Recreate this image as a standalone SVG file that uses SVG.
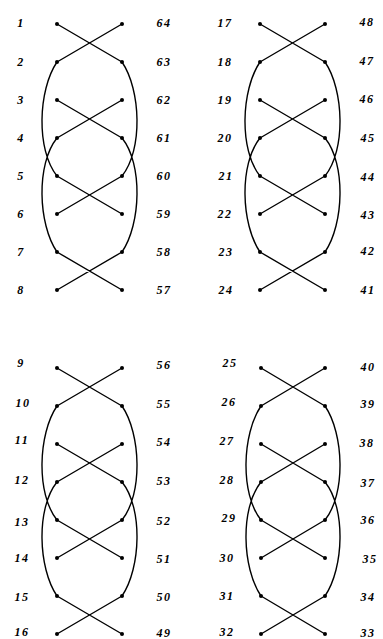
<svg xmlns="http://www.w3.org/2000/svg" width="383" height="639" viewBox="0 0 383 639">
<style>
.c{fill:none;stroke:#000;stroke-width:1.4;stroke-linecap:round}
.d{fill:#000}
.t{font-family:"Liberation Serif",serif;font-style:italic;font-weight:bold;font-size:12px;letter-spacing:1.5px;fill:#000;text-anchor:middle}
</style>
<defs><circle id="dot" r="2"/></defs>
<rect width="383" height="639" fill="#fff"/>
<g id="connectors" class="c">
<path d="M57,24L122,62M122,24L57,62M57,100L122,138M122,100L57,138M57,176L122,214M122,176L57,214M57,252L122,290M122,252L57,290"/>
<path d="M57,62C38,90 36,150 57,176M57,138C36,164 38,224 57,252M122,62C141,90 143,150 122,176M122,138C143,164 141,224 122,252"/>
<path d="M260,24L325,62M325,24L260,62M260,100L325,138M325,100L260,138M260,176L325,214M325,176L260,214M260,252L325,290M325,252L260,290"/>
<path d="M260,62C241,90 239,150 260,176M260,138C239,164 241,224 260,252M325,62C344,90 346,150 325,176M325,138C346,164 344,224 325,252"/>
<path d="M57,368L122,406M122,368L57,406M57,444L122,482M122,444L57,482M57,520L122,558M122,520L57,558M57,596L122,634M122,596L57,634"/>
<path d="M57,406C38,434 36,494 57,520M57,482C36,508 38,568 57,596M122,406C141,434 143,494 122,520M122,482C143,508 141,568 122,596"/>
<path d="M261,368L325,406M325,368L261,406M261,444L325,482M325,444L261,482M261,520L325,558M325,520L261,558M261,596L325,634M325,596L261,634"/>
<path d="M261,406C242,434 240,494 261,520M261,482C240,508 242,568 261,596M325,406C344,434 346,494 325,520M325,482C346,508 344,568 325,596"/>
</g>
<g id="n1"><use href="#dot" x="57" y="24"/><text class="t" x="21" y="27">1</text></g>
<g id="n2"><use href="#dot" x="57" y="62"/><text class="t" x="21" y="66">2</text></g>
<g id="n3"><use href="#dot" x="57" y="100"/><text class="t" x="21" y="104">3</text></g>
<g id="n4"><use href="#dot" x="57" y="138"/><text class="t" x="21" y="142">4</text></g>
<g id="n5"><use href="#dot" x="57" y="176"/><text class="t" x="21" y="180">5</text></g>
<g id="n6"><use href="#dot" x="57" y="214"/><text class="t" x="21" y="218">6</text></g>
<g id="n7"><use href="#dot" x="57" y="252"/><text class="t" x="21" y="256">7</text></g>
<g id="n8"><use href="#dot" x="57" y="290"/><text class="t" x="21" y="294">8</text></g>
<g id="n64"><use href="#dot" x="122" y="24"/><text class="t" x="164" y="27">64</text></g>
<g id="n63"><use href="#dot" x="122" y="62"/><text class="t" x="164" y="66">63</text></g>
<g id="n62"><use href="#dot" x="122" y="100"/><text class="t" x="164" y="104">62</text></g>
<g id="n61"><use href="#dot" x="122" y="138"/><text class="t" x="164" y="142">61</text></g>
<g id="n60"><use href="#dot" x="122" y="176"/><text class="t" x="164" y="180">60</text></g>
<g id="n59"><use href="#dot" x="122" y="214"/><text class="t" x="164" y="218">59</text></g>
<g id="n58"><use href="#dot" x="122" y="252"/><text class="t" x="164" y="256">58</text></g>
<g id="n57"><use href="#dot" x="122" y="290"/><text class="t" x="164" y="294">57</text></g>
<g id="n17"><use href="#dot" x="260" y="24"/><text class="t" x="225" y="27">17</text></g>
<g id="n18"><use href="#dot" x="260" y="62"/><text class="t" x="225" y="66">18</text></g>
<g id="n19"><use href="#dot" x="260" y="100"/><text class="t" x="225" y="104">19</text></g>
<g id="n20"><use href="#dot" x="260" y="138"/><text class="t" x="225" y="142">20</text></g>
<g id="n21"><use href="#dot" x="260" y="176"/><text class="t" x="226" y="180">21</text></g>
<g id="n22"><use href="#dot" x="260" y="214"/><text class="t" x="225" y="218">22</text></g>
<g id="n23"><use href="#dot" x="260" y="252"/><text class="t" x="226" y="256">23</text></g>
<g id="n24"><use href="#dot" x="260" y="290"/><text class="t" x="226" y="294">24</text></g>
<g id="n48"><use href="#dot" x="325" y="24"/><text class="t" x="367" y="26">48</text></g>
<g id="n47"><use href="#dot" x="325" y="62"/><text class="t" x="367" y="65">47</text></g>
<g id="n46"><use href="#dot" x="325" y="100"/><text class="t" x="367" y="103">46</text></g>
<g id="n45"><use href="#dot" x="325" y="138"/><text class="t" x="368" y="142">45</text></g>
<g id="n44"><use href="#dot" x="325" y="176"/><text class="t" x="368" y="181">44</text></g>
<g id="n43"><use href="#dot" x="325" y="214"/><text class="t" x="368" y="219">43</text></g>
<g id="n42"><use href="#dot" x="325" y="252"/><text class="t" x="368" y="255">42</text></g>
<g id="n41"><use href="#dot" x="325" y="290"/><text class="t" x="368" y="294">41</text></g>
<g id="n9"><use href="#dot" x="57" y="368"/><text class="t" x="21" y="367">9</text></g>
<g id="n10"><use href="#dot" x="57" y="406"/><text class="t" x="23" y="407">10</text></g>
<g id="n11"><use href="#dot" x="57" y="444"/><text class="t" x="22" y="444">11</text></g>
<g id="n12"><use href="#dot" x="57" y="482"/><text class="t" x="22" y="484">12</text></g>
<g id="n13"><use href="#dot" x="57" y="520"/><text class="t" x="22" y="526">13</text></g>
<g id="n14"><use href="#dot" x="57" y="558"/><text class="t" x="22" y="562">14</text></g>
<g id="n15"><use href="#dot" x="57" y="596"/><text class="t" x="22" y="601">15</text></g>
<g id="n16"><use href="#dot" x="57" y="634"/><text class="t" x="22" y="636">16</text></g>
<g id="n56"><use href="#dot" x="122" y="368"/><text class="t" x="164" y="369">56</text></g>
<g id="n55"><use href="#dot" x="122" y="406"/><text class="t" x="164" y="408">55</text></g>
<g id="n54"><use href="#dot" x="122" y="444"/><text class="t" x="164" y="446">54</text></g>
<g id="n53"><use href="#dot" x="122" y="482"/><text class="t" x="164" y="485">53</text></g>
<g id="n52"><use href="#dot" x="122" y="520"/><text class="t" x="164" y="525">52</text></g>
<g id="n51"><use href="#dot" x="122" y="558"/><text class="t" x="164" y="563">51</text></g>
<g id="n50"><use href="#dot" x="122" y="596"/><text class="t" x="164" y="601">50</text></g>
<g id="n49"><use href="#dot" x="122" y="634"/><text class="t" x="164" y="637">49</text></g>
<g id="n25"><use href="#dot" x="261" y="368"/><text class="t" x="230" y="367">25</text></g>
<g id="n26"><use href="#dot" x="261" y="406"/><text class="t" x="229" y="406">26</text></g>
<g id="n27"><use href="#dot" x="261" y="444"/><text class="t" x="227" y="445">27</text></g>
<g id="n28"><use href="#dot" x="261" y="482"/><text class="t" x="227" y="484">28</text></g>
<g id="n29"><use href="#dot" x="261" y="520"/><text class="t" x="229" y="522">29</text></g>
<g id="n30"><use href="#dot" x="261" y="558"/><text class="t" x="227" y="562">30</text></g>
<g id="n31"><use href="#dot" x="261" y="596"/><text class="t" x="227" y="600">31</text></g>
<g id="n32"><use href="#dot" x="261" y="634"/><text class="t" x="227" y="636">32</text></g>
<g id="n40"><use href="#dot" x="325" y="368"/><text class="t" x="368" y="371">40</text></g>
<g id="n39"><use href="#dot" x="325" y="406"/><text class="t" x="368" y="408">39</text></g>
<g id="n38"><use href="#dot" x="325" y="444"/><text class="t" x="367" y="447">38</text></g>
<g id="n37"><use href="#dot" x="325" y="482"/><text class="t" x="368" y="487">37</text></g>
<g id="n36"><use href="#dot" x="325" y="520"/><text class="t" x="368" y="524">36</text></g>
<g id="n35"><use href="#dot" x="325" y="558"/><text class="t" x="370" y="563">35</text></g>
<g id="n34"><use href="#dot" x="325" y="596"/><text class="t" x="368" y="601">34</text></g>
<g id="n33"><use href="#dot" x="325" y="634"/><text class="t" x="368" y="637">33</text></g>
</svg>
